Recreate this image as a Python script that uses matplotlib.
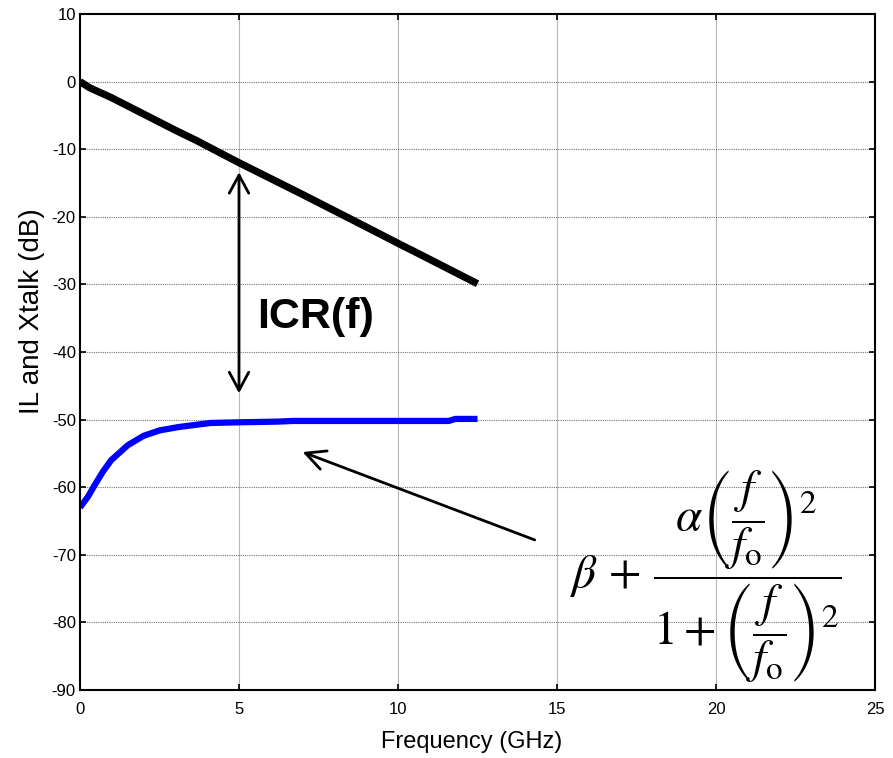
import matplotlib
matplotlib.use('Agg')
import matplotlib.pyplot as plt

plt.rcParams['font.family'] = ['Liberation Sans', 'DejaVu Sans']
plt.rcParams['mathtext.fontset'] = 'stix'
plt.rcParams['axes.unicode_minus'] = False

# Insertion loss (black) and crosstalk (blue)
il_freq = [0, 0.3, 1, 2, 3, 3.7, 3.9, 5, 7, 9, 10.2, 10.5, 12.5]
il_db = [0, -0.9, -2.4, -4.8, -7.2, -8.8, -9.3, -12.0, -16.7, -21.5,
         -24.4, -25.1, -29.9]

xt_freq = [0, 0.25, 0.46, 0.72, 0.98, 1.5, 2.0, 2.5, 3.1, 3.6, 4.1, 5.0,
           6.2, 6.7, 7.5, 9, 10, 11.6, 11.8, 12.5]
xt_db = [-63.0, -61.4, -59.7, -57.7, -56.0, -53.8, -52.4, -51.6, -51.1, -50.8,
         -50.5, -50.4, -50.3, -50.2, -50.2, -50.2, -50.2, -50.2, -49.9, -49.9]

x_ticks = [0, 5, 10, 15, 20, 25]
y_ticks = [-90, -80, -70, -60, -50, -40, -30, -20, -10, 0, 10]

fig = plt.figure(figsize=(8.93, 7.58), dpi=100)
ax = fig.add_axes([80 / 893, 1 - 690 / 758, 795 / 893, 676 / 758])

# grille style matlab
for x in x_ticks[1:-1]:
    ax.axvline(x, color='0.72', lw=0.8, zorder=0)
for y in y_ticks[1:-1]:
    ax.axhline(y, color='0.45', lw=0.8, ls=(0, (1, 1)), zorder=0)

ax.plot(il_freq, il_db, color='black', lw=5.2, solid_capstyle='butt')
ax.plot(xt_freq, xt_db, color='#0000ff', lw=4.5, solid_capstyle='butt')

ax.set_xlim(0, 25)
ax.set_ylim(-90, 10)
ax.set_xticks(x_ticks)
ax.set_yticks(y_ticks)
ax.tick_params(direction='in', top=True, right=True, length=4, width=1.2,
               labelsize=12)
ax.tick_params(axis='x', pad=9)
ax.tick_params(axis='y', pad=3)
for s in ax.spines.values():
    s.set_linewidth(1.5)

ax.text(0.493, -0.077, 'Frequency (GHz)', transform=ax.transAxes,
        fontsize=17, ha='center', va='center')
ax.text(-0.06, 0.56, 'IL and Xtalk (dB)', transform=ax.transAxes,
        fontsize=20, ha='center', va='center', rotation=90)

# fleche ICR
ax.annotate('', xy=(5, -13.4), xytext=(5, -46.1),
            arrowprops=dict(arrowstyle='<->,head_length=1.3,head_width=0.7',
                            lw=2, color='black', shrinkA=0, shrinkB=0,
                            mutation_scale=10))
ax.text(7.4, -36.4, 'ICR(f)', fontsize=31, fontweight='bold',
        ha='center', va='baseline')

ax.annotate('', xy=(7.0, -54.8), xytext=(14.3, -67.8),
            arrowprops=dict(arrowstyle='->,head_length=1.4,head_width=0.7',
                            lw=2, color='black', shrinkA=0, shrinkB=0,
                            mutation_scale=10))

formula = (r'$\beta\,+\,\dfrac{\alpha\left(\dfrac{f}{f_{\mathrm{o}}}\right)^{2}}'
           r'{1+\left(\dfrac{f}{f_{\mathrm{o}}}\right)^{2}}$')
ax.text(15.4, -73.2, formula, fontsize=34, ha='left', va='center')

fig.savefig('out.png', dpi=100)
